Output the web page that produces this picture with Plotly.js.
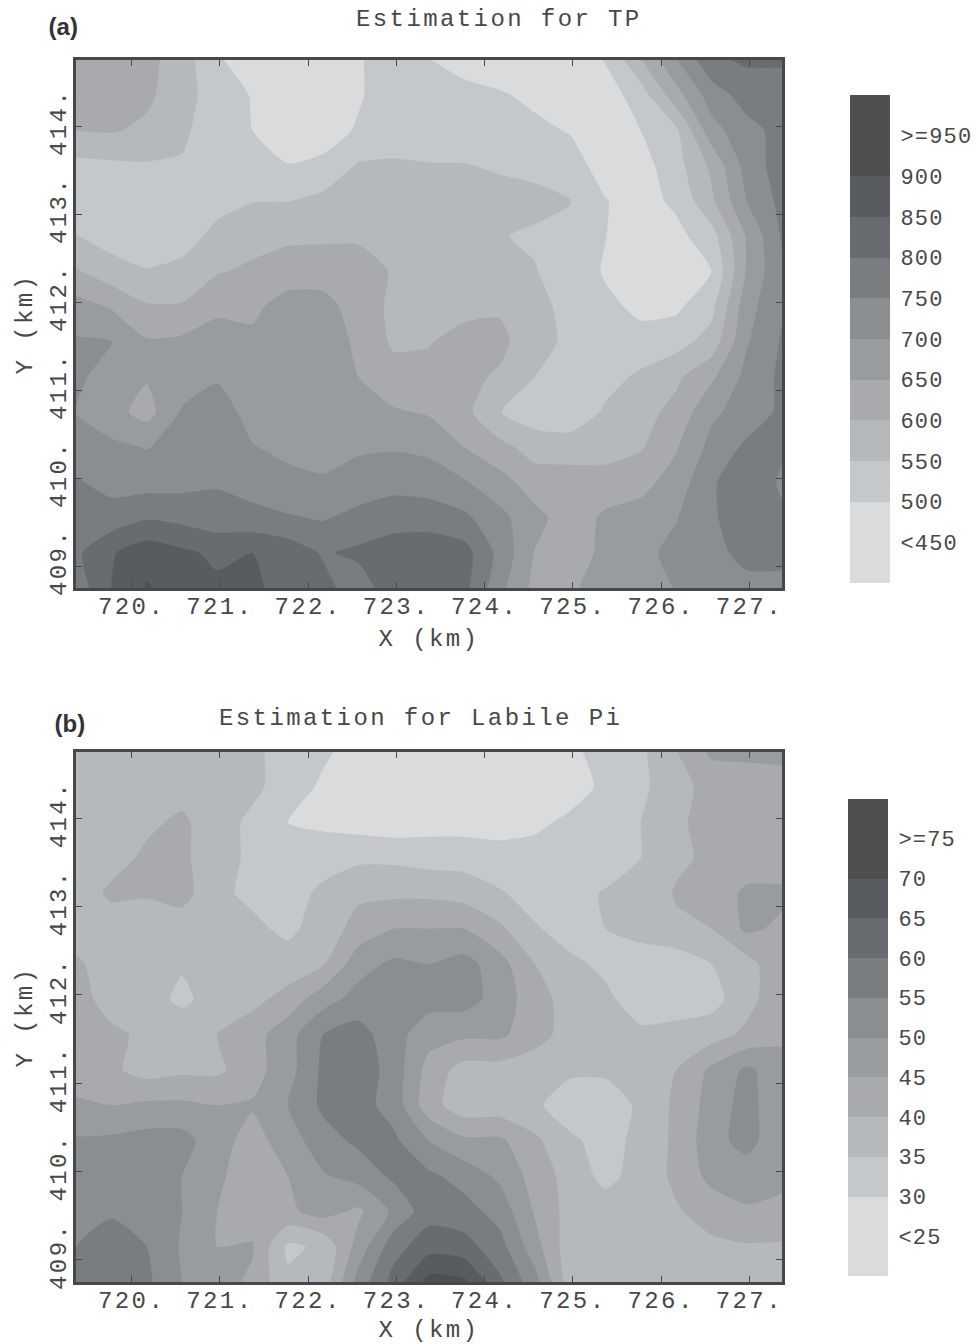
<!DOCTYPE html>
<html><head><meta charset="utf-8">
<script src="https://cdn.plot.ly/plotly-3.0.1.min.js"></script>
<style>
html,body{margin:0;padding:0;background:#fff}
text{letter-spacing:2.4px}
.y3tick text,.y4tick text{letter-spacing:1.2px}
.annotation[data-index="2"] text,.annotation[data-index="3"] text{letter-spacing:0}
</style></head><body><div id="chart" style="width:976px;height:1344px"></div>
<script>
const xKm=[719.37,719.77,720.17,720.57,720.97,721.37,721.77,722.17,722.57,722.97,723.37,723.77,724.17,724.57,724.97,725.37,725.77,726.17,726.57,726.97,727.37];
const yKm=[408.75,409.15,409.55,409.95,410.35,410.75,411.15,411.55,411.95,412.35,412.75,413.15,413.55,413.95,414.35,414.77];
const tpValues=[
[770,850,905,875,860,860,830,815,775,830,835,815,715,635,645,665,680,702,725,735,745],
[790,845,880,860,840,850,830,795,810,830,835,820,735,648,620,665,685,715,735,765,755],
[780,770,795,785,770,765,755,745,765,775,775,760,715,665,625,658,670,697,745,770,755],
[755,735,730,735,745,730,712,705,720,735,728,705,670,625,620,625,635,670,745,775,745],
[720,710,698,715,730,702,690,685,693,695,687,650,615,580,580,575,595,645,715,760,755],
[698,670,630,705,720,685,675,670,665,655,645,615,552,520,510,558,582,615,690,722,760],
[710,680,655,675,695,675,672,665,650,620,610,610,595,550,520,530,560,590,640,715,760],
[705,702,655,660,660,660,680,680,640,592,598,612,610,575,535,510,515,530,570,695,755],
[670,645,605,605,645,640,670,670,625,590,575,590,595,565,535,510,490,490,535,680,745],
[605,570,552,560,595,610,625,625,615,597,570,565,565,552,530,495,465,465,498,655,745],
[552,530,530,535,560,580,590,592,595,595,565,558,552,545,535,501,470,485,530,655,755],
[515,520,525,530,538,548,549,565,580,578,575,572,565,560,552,502,480,510,590,700,765],
[535,540,545,545,520,505,502,510,555,555,552,552,545,540,520,480,480,530,610,720,775],
[600,605,590,560,520,500,470,480,505,530,530,525,515,510,497,475,500,540,680,735,765],
[640,640,610,570,525,497,445,450,495,525,520,515,505,490,475,475,525,630,725,770,785],
[640,640,615,575,505,470,450,460,495,530,500,480,470,460,465,505,600,700,790,810,805]
];
const piValues=[
[55,58,56,50,47,44,36,37,52,62,72,71,61,52,37,37,37,38,38,38,38],
[55,57,55,49.5,45,45.5,34,36,47,58,63,62,57,47,37,37,37,39,39,39.5,39.5],
[53,54.5,53,50,45,42,44,47,44,51,58,57,53,44.5,38,37.5,38,39.5,42,44.5,43],
[52,54,54,50,46,42,45,49.5,52,56,56,53,49,43,38,33.5,37,41,46.5,47,47],
[50.5,51,52,52,47,43,47.5,53,56,56,50,46,46,41,36,33,36.5,41,48,52,46],
[46,45,46,46,45,45.5,50,56,57,53,42,37,37,36,32,32,36,41,47,52,46],
[42,41,38,39,39,43,48,56,58,53,43,38,38,37,36,36,37,40,46,51,47],
[42,41,39,38,40,43,48,55,57,52,47,46,46,42,38,36,36,37,38,41,44],
[42,38,37,34,37,38.5,42,48,52,53,52,52,48,42,38,36,32.5,32,33,38.5,43],
[41,37,35.5,35.5,36,36.5,37,39.5,48,51,50,52,47,40,36,34,32,32,35,38,44],
[37,37,37,37,37,36,34,37,42,45,45,45,41,35.5,33,35,37,39,40,46,44],
[37,41,40.5,42,36,34,33,36,39,39,39,38,35.5,33,33,35.5,36,40.5,42,46,46],
[37,38,41,41,37,34,32,33,34,34,33,33,32,32,32,32,35,39,41,42,42],
[37,37,39,41,37,34,30,29,28,27,28,28,28,29,31,33,35,39,42,42,42],
[37,37,38,38,37,36,33,29,27,26,26,26,26,27,28,31,34,38,42,43,42],
[37,37,37,37,37,36,33,31,28,27,27,27,27,27,29,32,34,40,46,46,47]
];
const bandColors=['#d9dbdd','#c5c8cb','#b6b9bb','#a8aaad','#999c9f','#8a8e90','#797d80','#686c70','#585c60','#4f4f4f'];
const xTicks=[720,721,722,723,724,725,726,727];
const xTickText=['720.','721.','722.','723.','724.','725.','726.','727.'];
const yTicks=[409,410,411,412,413,414];
const yTickText=['409.','410.','411.','412.','413.','414.'];
const tpLegendEdges=[400,500,550,600,650,700,750,800,850,900,1000];
const tpLegendTicks=[450,500,550,600,650,700,750,800,850,900,950];
const tpLegendText=['&lt;450','500','550','600','650','700','750','800','850','900','&gt;=950'];
const piLegendEdges=[20,30,35,40,45,50,55,60,65,70,80];
const piLegendTicks=[25,30,35,40,45,50,55,60,65,70,75];
const piLegendText=['&lt;25','30','35','40','45','50','55','60','65','70','&gt;=75'];
const bandIndex=[[0],[1],[2],[3],[4],[5],[6],[7],[8],[9]];
const W=976,H=1344;
const scale=bandColors.map((c,i)=>[i/9,c]);
const ink='#484848';
const mono='"Liberation Mono", monospace';
const tickFont={family:mono,size:24,color:ink};
function contour(z,start,end,size,xa,ya){return {type:'contour',x:xKm,y:yKm,z:z,xaxis:xa,yaxis:ya,colorscale:scale,showscale:false,hoverinfo:'skip',
  contours:{start:start,end:end,size:size,coloring:'fill',showlines:false},line:{width:0,smoothing:0.6}};}
function legend(edges,xa,ya){return {type:'heatmap',x:[0,1],y:edges,z:bandIndex,xaxis:xa,yaxis:ya,colorscale:scale,zmin:0,zmax:9,showscale:false,hoverinfo:'skip'};}
function xAxis(px0,px1,anchor){return {domain:[px0/W,px1/W],range:[719.37,727.37],anchor:anchor,tickmode:'array',tickvals:xTicks,ticktext:xTickText,ticks:'inside',ticklen:6,tickwidth:1,tickcolor:ink,ticklabelstandoff:-6,
  showline:true,linewidth:3,linecolor:ink,mirror:'ticks',showgrid:false,zeroline:false,tickfont:tickFont,
  title:{text:'X (km)',font:{family:mono,size:24,color:ink},standoff:10}};}
function yAxis(pt,pb,anchor){return {domain:[1-pb/H,1-pt/H],range:[408.75,414.75],anchor:anchor,tickmode:'array',tickvals:yTicks,ticktext:yTickText,tickangle:-90,ticks:'inside',ticklen:6,tickwidth:1,tickcolor:ink,ticklabelstandoff:-3,
  showline:true,linewidth:3,linecolor:ink,mirror:'ticks',showgrid:false,zeroline:false,tickfont:tickFont,
  title:{text:'Y (km)',font:{family:mono,size:24,color:ink},standoff:8}};}
function legX(p0,p1,anchor){return {domain:[p0/W,p1/W],range:[0,1],anchor:anchor,visible:false};}
function legY(pt,pb,range,vals,txt,anchor){return {domain:[1-pb/H,1-pt/H],range:range,anchor:anchor,side:'right',tickmode:'array',tickvals:vals,ticktext:txt,ticks:'outside',ticklen:5,tickcolor:'rgba(0,0,0,0)',showline:false,showgrid:false,zeroline:false,tickfont:{family:mono,size:22,color:ink}};}
function note(text,px,py,font){return {text:text,xref:'paper',yref:'paper',x:px/W,y:1-py/H,showarrow:false,xanchor:'center',yanchor:'middle',font:font};}
const titleFont={family:mono,size:24,color:ink};
const labelFont={family:'"Liberation Sans", Arial, sans-serif',size:24,color:'#333',weight:700};
const data=[
 contour(tpValues,500,900,50,'x','y'),
 contour(piValues,30,70,5,'x2','y2'),
 legend(tpLegendEdges,'x3','y3'),
 legend(piLegendEdges,'x4','y4')
];
const layout={width:W,height:H,margin:{l:0,r:0,t:0,b:0},paper_bgcolor:'#fff',plot_bgcolor:'#fff',showlegend:false,
 xaxis:xAxis(76,782,'y'),yaxis:yAxis(60,588,'x'),
 xaxis2:xAxis(76,782,'y2'),yaxis2:yAxis(752,1282,'x2'),
 xaxis3:legX(850,890,'y3'),yaxis3:legY(95,583,[400,1000],tpLegendTicks,tpLegendText,'x3'),
 xaxis4:legX(848,888,'y4'),yaxis4:legY(799,1276,[20,80],piLegendTicks,piLegendText,'x4'),
 annotations:[
  note('Estimation for TP',499,20,titleFont),
  note('Estimation for Labile Pi',420,718,titleFont),
  note('(a)',63,27,labelFont),
  note('(b)',70,723,labelFont)
 ]};
Plotly.newPlot('chart',data,layout,{staticPlot:true,displayModeBar:false});
</script></body></html>
